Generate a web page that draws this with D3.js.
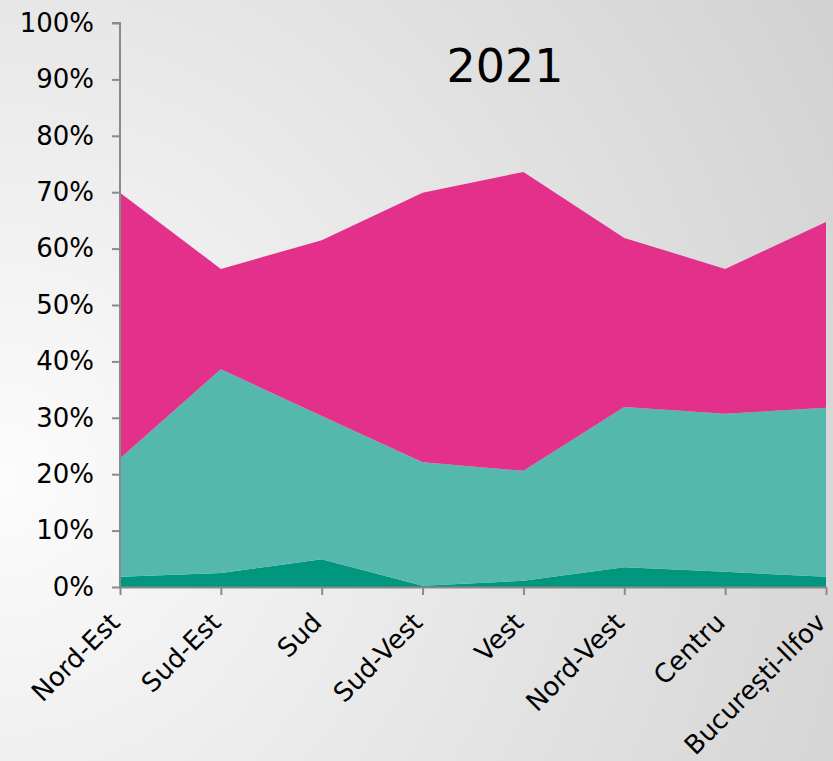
<!DOCTYPE html>
<html>
<head>
<meta charset="utf-8">
<script src="https://cdn.jsdelivr.net/npm/d3@7"></script>
<style>
  body { margin: 0; }
  svg { display: block; }
</style>
</head>
<body>
<script>
const w = 833;
const h = 761;
const margin = { top: 23, right: 7, bottom: 174, left: 120 };

const regions = ["Nord-Est", "Sud-Est", "Sud", "Sud-Vest", "Vest", "Nord-Vest", "Centru", "București-Ilfov"];
const seriesNames = ["seria1", "seria2", "seria3"];
const seria1 = [1.8, 2.5, 4.9, 0.2, 1.1, 3.5, 2.7, 1.8];
const seria2 = [21.0, 36.1, 25.4, 21.9, 19.5, 28.4, 28.0, 30.0];
const seria3 = [47.1, 17.8, 31.2, 47.8, 53.0, 30.0, 25.7, 32.9];
const yTicks = [0, 10, 20, 30, 40, 50, 60, 70, 80, 90, 100];
const colors = ["#00977e", "#54b9ac", "#e3318b"];
const title = "2021";

const rows = regions.map((r, i) => ({ region: r, seria1: seria1[i], seria2: seria2[i], seria3: seria3[i] }));

const svg = d3.select("body").append("svg").attr("width", w).attr("height", h);

// background
const grad = svg.append("defs").append("radialGradient")
  .attr("id", "bg").attr("gradientUnits", "userSpaceOnUse")
  .attr("cx", 0).attr("cy", 480).attr("r", 950);
grad.append("stop").attr("offset", "0%").attr("stop-color", "#fcfcfc");
grad.append("stop").attr("offset", "100%").attr("stop-color", "#d2d2d2");
svg.append("rect").attr("width", w).attr("height", h).attr("fill", "url(#bg)");

const x = d3.scalePoint().domain(regions).range([margin.left, w - margin.right]);
const y = d3.scaleLinear().domain([0, 100]).range([h - margin.bottom, margin.top]);

const stack = d3.stack().keys(seriesNames)(rows);

const area = d3.area()
  .x(d => x(d.data.region))
  .y0(d => y(d[0]))
  .y1(d => y(d[1]));

svg.selectAll("path.layer").data(stack).enter().append("path")
  .attr("class", "layer")
  .attr("d", area)
  .attr("fill", (d, i) => colors[i]);

// y axis
const yAxis = svg.append("g")
  .attr("transform", `translate(${margin.left},0)`)
  .call(d3.axisLeft(y).tickValues(yTicks).tickFormat(d => d + "%").tickSize(8).tickPadding(18));

// x axis
const xAxis = svg.append("g")
  .attr("transform", `translate(0,${h - margin.bottom})`)
  .call(d3.axisBottom(x).tickSize(8).tickSizeOuter(0));

[yAxis, xAxis].forEach(g => {
  g.select(".domain").attr("stroke", "#8a8a8a").attr("stroke-width", 2);
  g.selectAll(".tick line").attr("stroke", "#8a8a8a").attr("stroke-width", 2);
  g.selectAll("text")
    .attr("fill", "#000")
    .attr("font-family", "DejaVu Sans, Verdana, sans-serif")
    .attr("font-size", 26);
});
yAxis.select(".domain").attr("d", `M-8,${y(100)}H0V${y(0)}`);

xAxis.selectAll(".tick text")
  .attr("text-anchor", "end")
  .attr("x", 0).attr("y", 0).attr("dy", 0)
  .attr("transform", "translate(1,37) rotate(-45)");

svg.append("text")
  .text(title)
  .attr("x", 505)
  .attr("y", 82)
  .attr("text-anchor", "middle")
  .attr("font-family", "DejaVu Sans, Verdana, sans-serif")
  .attr("font-size", 46)
  .attr("fill", "#000");
</script>
</body>
</html>
